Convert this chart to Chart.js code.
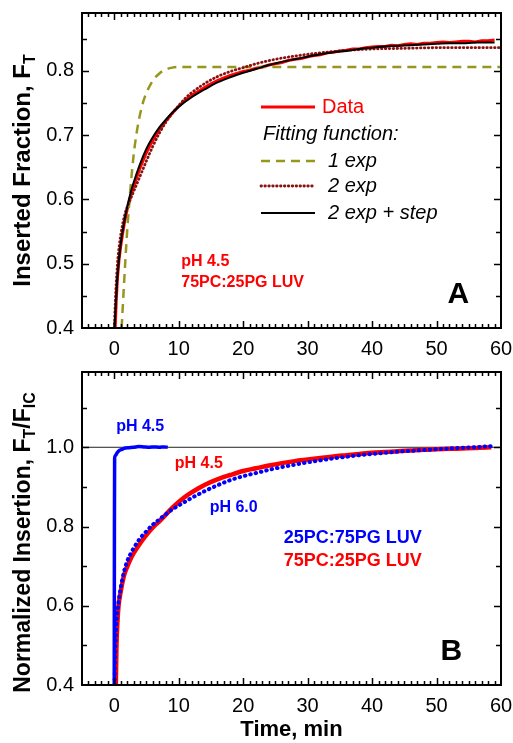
<!DOCTYPE html>
<html>
<head>
<meta charset="utf-8">
<title>Insertion kinetics</title>
<script src="https://cdn.jsdelivr.net/npm/chart.js@4.4.1/dist/chart.umd.min.js"></script>
<style>
  body { margin: 0; background: #fff; }
  #wrap { position: relative; width: 513px; height: 743px; }
  canvas { position: absolute; left: 0; }
</style>
</head>
<body>
<div id="wrap">
  <canvas id="chartA" width="513" height="360" style="top:0"></canvas>
  <canvas id="chartB" width="513" height="383" style="top:360px"></canvas>
</div>
<script>
const FONT = 'Arial, "Liberation Sans", Helvetica, sans-serif';

// ---- Panel A: inserted fraction F_T vs time (min), pH 4.5, 75PC:25PG LUV
const timeData = [0.15, 0.3, 0.5, 0.75, 1.0, 1.3, 1.6, 2.0, 2.5, 3.0, 3.5, 4.0, 4.5, 5.0, 5.5, 6.0, 7, 8, 9, 10,
  11, 12, 13, 14, 15, 16, 17, 18, 19, 20, 21, 22, 23, 24, 25, 26, 27, 28, 29, 30,
  31, 32, 33, 34, 35, 36, 37, 38, 39, 40, 41, 42, 43, 44, 45, 46, 47, 48, 49, 50,
  51, 52, 53, 54, 55, 56, 57, 58, 59];
const fracData = [0.400, 0.440, 0.478, 0.507, 0.527, 0.547, 0.565, 0.584, 0.603, 0.620, 0.635, 0.649, 0.661, 0.673, 0.683, 0.692, 0.709, 0.722, 0.734, 0.745,
  0.754, 0.762, 0.768, 0.774, 0.780, 0.785, 0.789, 0.793, 0.796, 0.799, 0.801, 0.804, 0.806, 0.809, 0.811, 0.813, 0.816, 0.818, 0.819, 0.822,
  0.824, 0.825, 0.828, 0.829, 0.831, 0.832, 0.834, 0.834, 0.836, 0.837, 0.838, 0.838, 0.840, 0.839, 0.841, 0.842, 0.841, 0.843, 0.843, 0.844,
  0.845, 0.844, 0.845, 0.846, 0.846, 0.845, 0.847, 0.847, 0.848];

const time1exp = [1.15, 1.5, 2.0, 2.5, 3.0, 3.5, 4.0, 4.5, 5.0, 6.0, 7.0, 8.0, 9.0, 10, 15, 20, 30, 40, 50, 60];
const frac1exp = [0.400, 0.465, 0.550, 0.615, 0.668, 0.705, 0.732, 0.752, 0.766, 0.785, 0.796, 0.802, 0.805, 0.806, 0.806, 0.806, 0.806, 0.806, 0.806, 0.806];

const time2exp = [0, 0.25, 0.5, 0.8, 1.2, 1.6, 2.0, 2.5, 3.0, 3.5, 4.0, 5, 6, 7, 8, 9, 10, 11, 12, 14, 16, 18, 20, 22, 25, 28, 31, 35, 40, 45, 50, 55, 60];
const frac2exp = [0.400, 0.460, 0.500, 0.530, 0.556, 0.575, 0.588, 0.600, 0.612, 0.624, 0.636, 0.660, 0.683, 0.703, 0.720, 0.734, 0.746, 0.757, 0.766, 0.780, 0.791, 0.799, 0.805, 0.811, 0.818, 0.823, 0.827, 0.831, 0.834, 0.835, 0.836, 0.836, 0.836];

const timeStep = [0.05, 0.5, 1.0, 1.5, 2.0, 2.5, 3.0, 4.0, 5.0, 6.0, 7.0, 8.0, 9.0, 10, 12, 14, 16, 18, 20, 22, 24, 26, 28, 30, 32, 34, 36, 38, 40, 42, 44, 46, 48, 50, 52, 54, 56, 58, 59];
const fracStep = [0.400, 0.480, 0.530, 0.562, 0.588, 0.609, 0.626, 0.655, 0.679, 0.697, 0.712, 0.724, 0.735, 0.744, 0.759, 0.771, 0.782, 0.790, 0.797, 0.803, 0.809, 0.814, 0.818, 0.822, 0.826, 0.829, 0.831, 0.834, 0.836, 0.838, 0.839, 0.840, 0.841, 0.842, 0.843, 0.843, 0.844, 0.844, 0.844];

// ---- Panel B: normalized insertion F_T/F_IC
const timeFast = [0, 0.03, 0.06, 0.2, 0.45, 0.8, 1.2, 1.7, 2.3, 3.0, 3.8, 4.6, 5.4, 6.2, 7.0, 7.7, 8.3];
const normFast = [0.400, 0.800, 0.972, 0.979, 0.986, 0.992, 0.995, 0.998, 0.999, 1.000, 1.002, 1.001, 1.000, 1.001, 1.000, 1.001, 1.000];

const timeRed = [0.25, 0.35, 0.5, 0.67, 1.0, 1.5, 2.05, 2.5, 3, 4, 5, 6.15, 7, 8, 9, 10, 11, 12, 13, 14, 16, 18, 20, 22, 24, 26, 28, 30,
  32, 34, 36, 38, 40, 42, 44, 46, 48, 50, 52, 54, 56, 58.5];
const normRed = [0.400, 0.500, 0.560, 0.600, 0.635, 0.675, 0.700, 0.717, 0.732, 0.757, 0.779, 0.800, 0.813, 0.830, 0.847, 0.862, 0.875, 0.886, 0.896, 0.905, 0.919, 0.930, 0.940, 0.947, 0.954, 0.960, 0.965, 0.969,
  0.973, 0.977, 0.980, 0.983, 0.986, 0.988, 0.990, 0.992, 0.994, 0.995, 0.996, 0.997, 0.998, 1.000];

const timeSlow = [0.05, 0.15, 0.3, 0.5, 0.7, 1.0, 1.5, 2, 2.5, 3, 4, 5, 6, 7, 8, 9, 10, 12, 14, 16, 18, 20, 22, 24, 26, 28, 30,
  32, 34, 36, 38, 40, 42, 44, 46, 48, 50, 52, 54, 56, 58.5];
const normSlow = [0.400, 0.480, 0.545, 0.585, 0.612, 0.645, 0.685, 0.712, 0.730, 0.745, 0.770, 0.788, 0.805, 0.818, 0.831, 0.843, 0.853, 0.872, 0.889, 0.904, 0.917, 0.927, 0.935, 0.943, 0.950, 0.956, 0.962,
  0.967, 0.972, 0.976, 0.980, 0.983, 0.986, 0.989, 0.991, 0.993, 0.995, 0.997, 0.999, 1.000, 1.003];

const refTime = [-5, 60];
const refLevel = [1, 1];

// axis ranges
const xRange = [-5, 60];
const yRangeA = [0.4, 0.89];
const yRangeB = [0.4, 1.19];

const pts = (xs, ys) => xs.map((x, i) => ({ x: x, y: ys[i] }));

// frame, inward ticks, rotated y title, notes and legend drawn on top of the chart
function decor(cfg) {
  return {
    id: 'decor',
    afterDraw(chart) {
      const ctx = chart.ctx, a = chart.chartArea;
      const xs = chart.scales.x, ys = chart.scales.y;
      ctx.save();

      // ticks
      ctx.strokeStyle = '#000';
      ctx.lineWidth = 1.5;
      ctx.beginPath();
      const nx = Math.round((xs.max - xs.min) / cfg.xMinor);
      for (let i = 1; i < nx; i++) {
        const v = xs.min + i * cfg.xMinor;
        const major = Math.abs(v / cfg.xMajor - Math.round(v / cfg.xMajor)) < 1e-6;
        const len = major ? 7 : 4;
        const px = Math.round(xs.getPixelForValue(v)) + 0.5;
        ctx.moveTo(px, a.bottom); ctx.lineTo(px, a.bottom - len);
        ctx.moveTo(px, a.top); ctx.lineTo(px, a.top + len);
      }
      const ny = Math.floor((ys.max - ys.min) / cfg.yMinor + 1e-6);
      for (let i = 1; i <= ny; i++) {
        const v = ys.min + i * cfg.yMinor;
        if (v >= ys.max - 1e-6) break;
        const major = Math.abs(v / cfg.yMajor - Math.round(v / cfg.yMajor)) < 1e-6;
        const len = major ? 7 : 5;
        const py = Math.round(ys.getPixelForValue(v)) + 0.5;
        ctx.moveTo(a.left, py); ctx.lineTo(a.left + len, py);
        ctx.moveTo(a.right, py); ctx.lineTo(a.right - len, py);
      }
      ctx.stroke();

      // frame
      ctx.lineWidth = 2;
      ctx.strokeRect(a.left, a.top, a.right - a.left, a.bottom - a.top);

      // rotated y title with subscripts
      const big = 'bold ' + cfg.titleSize + 'px ' + FONT, small = 'bold 16px ' + FONT;
      let total = 0;
      cfg.yTitle.forEach(p => { ctx.font = p.sub ? small : big; total += ctx.measureText(p.text).width; });
      ctx.translate(30, (a.top + a.bottom) / 2 + cfg.titleShift);
      ctx.rotate(-Math.PI / 2);
      ctx.fillStyle = '#000';
      ctx.textBaseline = 'alphabetic';
      ctx.textAlign = 'left';
      let cx = -total / 2;
      cfg.yTitle.forEach(p => {
        ctx.font = p.sub ? small : big;
        ctx.fillText(p.text, cx, p.sub ? 5 : 0);
        cx += ctx.measureText(p.text).width;
      });
      ctx.setTransform(1, 0, 0, 1, 0, 0);

      // text notes anchored in data units
      ctx.textBaseline = 'middle';
      cfg.notes.forEach(n => {
        ctx.font = 'bold ' + n.size + 'px ' + FONT;
        ctx.fillStyle = n.color;
        ctx.textAlign = n.align || 'left';
        ctx.fillText(n.text, xs.getPixelForValue(n.x), ys.getPixelForValue(n.y));
      });

      // legend
      if (cfg.legend) {
        const L = cfg.legend;
        L.items.forEach(it => {
          const ds = chart.data.datasets.find(d => d.label === it.label);
          if (ds) {
            ctx.strokeStyle = ds.borderColor;
            ctx.lineWidth = ds.borderWidth;
            ctx.setLineDash(ds.borderDash || []);
            ctx.lineCap = ds.borderCapStyle || 'butt';
            ctx.beginPath();
            ctx.moveTo(L.x0, it.y); ctx.lineTo(L.x1, it.y);
            ctx.stroke();
            ctx.setLineDash([]);
          }
          ctx.font = (it.italic ? 'italic ' : '') + '20px ' + FONT;
          ctx.fillStyle = it.color;
          ctx.textAlign = 'left';
          ctx.fillText(it.text, it.tx, it.y);
        });
      }
      ctx.restore();
    }
  };
}

function scales(yRange, yStep, xAxisHeight, xTitle) {
  return {
    x: {
      type: 'linear', min: xRange[0], max: xRange[1],
      grid: { display: false, drawTicks: false }, border: { display: false },
      ticks: { stepSize: 10, includeBounds: false, padding: 9, color: '#000', autoSkip: false, maxRotation: 0,
        font: { family: FONT, size: 20 } },
      title: { display: !!xTitle, text: xTitle || '', color: '#000', padding: { top: 0, bottom: 0 },
        font: { family: FONT, size: 22, weight: 'bold' } },
      afterFit(s) { s.height = xAxisHeight; s.paddingLeft = 0; s.paddingRight = 0; }
    },
    y: {
      type: 'linear', min: yRange[0], max: yRange[1],
      grid: { display: false, drawTicks: false }, border: { display: false },
      ticks: { stepSize: yStep, includeBounds: false, padding: 8, color: '#000',
        font: { family: FONT, size: 20 }, callback: v => v.toFixed(1) },
      afterFit(s) { s.width = 82; s.paddingTop = 0; s.paddingBottom = 0; }
    }
  };
}

const common = {
  responsive: false,
  animation: false,
  devicePixelRatio: 1,
  plugins: { legend: { display: false }, tooltip: { enabled: false } },
  elements: { point: { radius: 0 }, line: { cubicInterpolationMode: 'monotone' } }
};

const RED = '#ff0000', BLUE = '#0000ff', OLIVE = '#97971f', MAROON = '#8c1010';

new Chart(document.getElementById('chartA'), {
  type: 'line',
  data: {
    datasets: [
      { label: 'Data', data: pts(timeData, fracData), borderColor: RED, borderWidth: 3, order: 4, cubicInterpolationMode: 'default', tension: 0 },
      { label: '1 exp', data: pts(time1exp, frac1exp), borderColor: OLIVE, borderWidth: 2.5, borderDash: [9, 6], order: 3 },
      { label: '2 exp', data: pts(time2exp, frac2exp), borderColor: MAROON, borderWidth: 2.8, borderDash: [0.5, 3.4], borderCapStyle: 'round', order: 2 },
      { label: '2 exp + step', data: pts(timeStep, fracStep), borderColor: '#000', borderWidth: 2, order: 1 }
    ]
  },
  options: Object.assign({}, common, {
    layout: { padding: { left: 0, right: 12, top: 13, bottom: 0 } },
    scales: scales(yRangeA, 0.1, 32, null)
  }),
  plugins: [decor({
    xMinor: 1, xMajor: 10, yMinor: 0.05, yMajor: 0.1,
    titleSize: 24, titleShift: 0,
    yTitle: [{ text: 'Inserted Fraction, F' }, { text: 'T', sub: true }],
    notes: [
      { text: 'pH 4.5', x: 10.4, y: 0.504, color: RED, size: 16 },
      { text: '75PC:25PG LUV', x: 10.4, y: 0.471, color: RED, size: 16 },
      { text: 'A', x: 53.4, y: 0.451, color: '#000', size: 30, align: 'center' }
    ],
    legend: {
      x0: 261, x1: 315,
      items: [
        { label: 'Data', text: 'Data', tx: 322, y: 107, color: RED },
        { text: 'Fitting function:', tx: 263, y: 134, color: '#000', italic: true },
        { label: '1 exp', text: '1 exp', tx: 328, y: 161, color: '#000', italic: true },
        { label: '2 exp', text: '2 exp', tx: 328, y: 186, color: '#000', italic: true },
        { label: '2 exp + step', text: '2 exp + step', tx: 328, y: 213, color: '#000', italic: true }
      ]
    }
  })]
});

new Chart(document.getElementById('chartB'), {
  type: 'line',
  data: {
    datasets: [
      { label: 'ref', data: pts(refTime, refLevel), borderColor: '#222', borderWidth: 1, order: 4 },
      { label: 'pH 4.5 75PC:25PG', data: pts(timeRed, normRed), borderColor: RED, borderWidth: 4.5, order: 3 },
      { label: 'pH 6.0 25PC:75PG', data: pts(timeSlow, normSlow), borderColor: BLUE, borderWidth: 4, borderDash: [0.5, 5], borderCapStyle: 'round', order: 2 },
      { label: 'pH 4.5 25PC:75PG', data: pts(timeFast, normFast), borderColor: BLUE, borderWidth: 3.5, order: 1 }
    ]
  },
  options: Object.assign({}, common, {
    layout: { padding: { left: 0, right: 12, top: 12, bottom: 0 } },
    scales: scales(yRangeB, 0.2, 58, 'Time, min')
  }),
  plugins: [decor({
    xMinor: 1, xMajor: 10, yMinor: 0.1, yMajor: 0.2,
    titleSize: 23, titleShift: 14,
    yTitle: [{ text: 'Normalized Insertion, F' }, { text: 'T', sub: true }, { text: '/F' }, { text: 'IC', sub: true }],
    notes: [
      { text: 'pH 4.5', x: 0.3, y: 1.053, color: BLUE, size: 16 },
      { text: 'pH 4.5', x: 9.4, y: 0.96, color: RED, size: 16 },
      { text: 'pH 6.0', x: 14.8, y: 0.847, color: BLUE, size: 16 },
      { text: '25PC:75PG LUV', x: 26.3, y: 0.772, color: BLUE, size: 18 },
      { text: '75PC:25PG LUV', x: 26.3, y: 0.714, color: RED, size: 18 },
      { text: 'B', x: 52.3, y: 0.483, color: '#000', size: 30, align: 'center' }
    ]
  })]
});
</script>
</body>
</html>
